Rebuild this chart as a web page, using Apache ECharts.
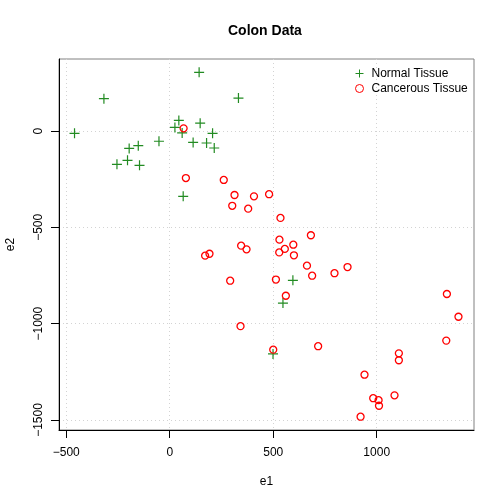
<!DOCTYPE html>
<html>
<head>
<meta charset="utf-8">
<script src="https://cdn.jsdelivr.net/npm/echarts@6/dist/echarts.min.js"></script>
<style>
html,body{margin:0;padding:0;background:#fff;}
#chart{width:504px;height:504px;}
</style>
</head>
<body>
<div id="chart"></div>
<script>
// Normal tissue points [e1, e2]
const normalE1 = [142, -318, 332, -460, 44, 25, 147, 60, 207, 113, -52, -152, -196, 178, 215, -255, -204, -146, 65, 595, 547, 499];
const normalE2 = [305, 168, 171, -12, 55, 19, 41, -10, -12, -59, -53, -76, -90, -62, -88, -173, -152, -178, -339, -775, -893, -1157];
// Cancerous tissue points [e1, e2]
const cancerE1 = [67, 78, 261, 313, 407, 480, 302, 379, 535, 682, 530, 597, 556, 529, 600, 345, 371, 192, 171, 663, 859, 796, 688, 292, 513, 561, 1339, 1395, 1336, 500, 717, 1107, 1107, 941, 1086, 983, 1009, 1011, 922, 342];
const cancerE2 = [14, -244, -254, -332, -339, -328, -388, -403, -451, -541, -564, -590, -612, -630, -645, -595, -614, -637, -647, -699, -706, -738, -751, -777, -771, -855, -846, -964, -1088, -1135, -1117, -1154, -1190, -1265, -1372, -1387, -1397, -1426, -1483, -1013];
const xTicks = [-500, 0, 500, 1000];
const yTicks = [-1500, -1000, -500, 0];
const seriesNames = ['Normal Tissue', 'Cancerous Tissue'];

const normalData = normalE1.map((v, i) => [v, normalE2[i]]);
const cancerData = cancerE1.map((v, i) => [v, cancerE2[i]]);

const FONT = '"Liberation Sans", Arial, Helvetica, sans-serif';
const green = '#228B22';
const red = '#FF0000';
const plusPath = 'path://M0,5L10,5M5,0L5,10';

const gridLineStyle = { color: '#d3d3d3', type: [1, 3], width: 1 };

const chart = echarts.init(document.getElementById('chart'), null, { renderer: 'canvas' });
chart.setOption({
  animation: false,
  backgroundColor: '#ffffff',
  title: {
    text: 'Colon Data',
    left: 228, top: 24, padding: 0,
    textStyle: { fontFamily: FONT, fontSize: 14, fontWeight: 'bold', color: '#000' }
  },
  legend: {
    data: seriesNames,
    orient: 'vertical',
    left: 353, top: 67, padding: 0,
    itemWidth: 14, itemHeight: 8, itemGap: 2,
    symbolKeepAspect: true,
    itemStyle: { borderWidth: 1 },
    textStyle: { fontFamily: FONT, fontSize: 12, color: '#000' }
  },
  grid: {
    left: 59, right: 30, top: 59, bottom: 74,
    outerBoundsMode: 'none',
    show: true, borderColor: '#808080', borderWidth: 1, backgroundColor: 'transparent'
  },
  xAxis: {
    type: 'value', min: -535, max: 1470,
    name: 'e1', nameLocation: 'middle', nameGap: 46,
    nameTextStyle: { fontFamily: FONT, fontSize: 12, color: '#000' },
    axisLine: { show: true, onZero: false, lineStyle: { color: '#000', width: 1 } },
    axisTick: { show: true, length: 8, inside: false, customValues: xTicks, lineStyle: { color: '#000' } },
    axisLabel: { customValues: xTicks, margin: 17, fontFamily: FONT, fontSize: 12, color: '#000', formatter: v => String(v).replace('-', '\u2212') },
    splitLine: { show: true, lineStyle: gridLineStyle }
  },
  yAxis: {
    type: 'value', min: -1552, max: 374,
    name: 'e2', nameLocation: 'middle', nameGap: 42, nameRotate: 90,
    nameTextStyle: { fontFamily: FONT, fontSize: 12, color: '#000' },
    axisLine: { show: true, onZero: false, lineStyle: { color: '#000', width: 1 } },
    axisTick: { show: true, length: 8, inside: false, customValues: yTicks, lineStyle: { color: '#000' } },
    axisLabel: { customValues: yTicks, margin: 14, rotate: 90, fontFamily: FONT, fontSize: 12, color: '#000', formatter: v => String(v).replace('-', '\u2212') },
    splitLine: { show: true, lineStyle: gridLineStyle }
  },
  series: [
    {
      name: seriesNames[0], type: 'scatter', data: normalData,
      symbol: plusPath, symbolSize: 10,
      itemStyle: { color: 'none', borderColor: green, borderWidth: 1.2, opacity: 1 }
    },
    {
      name: seriesNames[1], type: 'scatter', data: cancerData,
      symbol: 'circle', symbolSize: 7,
      itemStyle: { color: 'none', borderColor: red, borderWidth: 1.3, opacity: 1 }
    }
  ]
});
</script>
</body>
</html>
